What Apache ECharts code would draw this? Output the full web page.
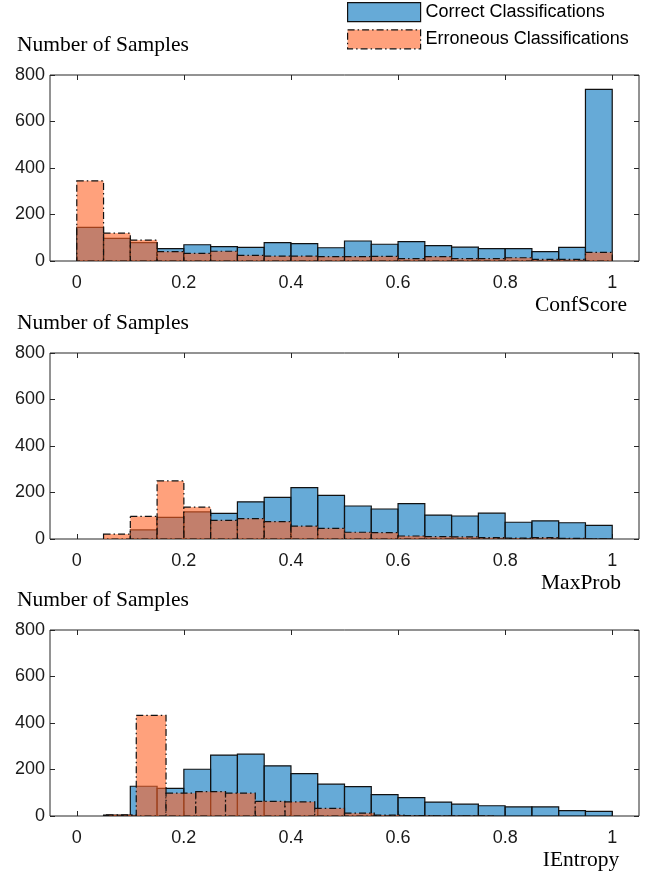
<!DOCTYPE html>
<html>
<head>
<meta charset="utf-8">
<script src="https://cdn.jsdelivr.net/npm/echarts@6/dist/echarts.min.js"></script>
<style>
html,body{margin:0;padding:0;background:#fff;}
#chart{width:662px;height:876px;}
</style>
</head>
<body>
<div id="chart"></div>
<script>
// ---------- DATA ----------
const seriesNames = ['Correct Classifications', 'Erroneous Classifications'];
const xTickValues = [0, 0.2, 0.4, 0.6, 0.8, 1];
const panelTitles = ['ConfScore', 'MaxProb', 'IEntropy'];
const yAxisTitle = 'Number of Samples';

// bin starts (width 0.05)
const binStarts20 = [0, 0.05, 0.1, 0.15, 0.2, 0.25, 0.3, 0.35, 0.4, 0.45,
                     0.5, 0.55, 0.6, 0.65, 0.7, 0.75, 0.8, 0.85, 0.9, 0.95];
const binWidth20 = 0.05;
// bin starts (width 1/18) used by IEntropy erroneous histogram
const binStarts18 = [0.0556, 0.1111, 0.1667, 0.2222, 0.2778, 0.3333, 0.3889, 0.4444,
                     0.5, 0.5556, 0.6111, 0.6667, 0.7222];
const binWidth18 = 0.0556;

// ConfScore
const confCorrect   = [145, 97, 79, 53, 70, 62, 59, 79, 75, 57, 86, 72, 83, 66, 60, 53, 53, 40, 59, 738];
const confErroneous = [345, 120, 90, 40, 33, 42, 24, 21, 21, 19, 19, 20, 10, 19, 10, 10, 14, 7, 7, 37];
// MaxProb
const maxCorrect    = [0, 0, 39, 93, 117, 110, 160, 179, 221, 188, 142, 129, 152, 103, 99, 111, 72, 78, 70, 59];
const maxErroneous  = [0, 21, 97, 250, 137, 80, 88, 75, 55, 46, 29, 27, 13, 10, 9, 6, 4, 6, 3, 1];
// IEntropy
const entCorrect    = [0, 4, 128, 119, 201, 262, 266, 216, 182, 137, 126, 92, 79, 60, 51, 44, 39, 39, 23, 20];
const entErroneous  = [5, 433, 98, 105, 98, 63, 61, 33, 12, 4, 2, 1, 1];

// ---------- BUILD ----------
function toBins(starts, width, values) {
  const out = [];
  for (let i = 0; i < values.length; i++) {
    if (values[i] > 0) out.push([starts[i], starts[i] + width, values[i]]);
  }
  return out;
}

const panels = [
  { correct: toBins(binStarts20, binWidth20, confCorrect), erroneous: toBins(binStarts20, binWidth20, confErroneous) },
  { correct: toBins(binStarts20, binWidth20, maxCorrect),  erroneous: toBins(binStarts20, binWidth20, maxErroneous) },
  { correct: toBins(binStarts20, binWidth20, entCorrect),  erroneous: toBins(binStarts18, binWidth18, entErroneous) }
];

const blueFill = 'rgba(0,114,189,0.6)';
const orangeFill = 'rgba(255,98,36,0.6)';
const dashDot = [7, 3, 1.5, 3];

function makeRender(fill, dash) {
  return function (params, api) {
    const x0 = api.value(0), x1 = api.value(1), v = api.value(2);
    const pTop = api.coord([x0, v]);
    const pBot = api.coord([x1, 0]);
    return {
      type: 'rect',
      shape: { x: pTop[0], y: pTop[1], width: pBot[0] - pTop[0], height: pBot[1] - pTop[1] },
      style: { fill: fill, stroke: '#111', lineWidth: 1.2, lineDash: dash }
    };
  };
}

const gridTops = [75, 353, 630];
const gridH = 186;
const fontSans = 'Liberation Sans, Arial, sans-serif';
const fontSerif = 'Liberation Serif, Times New Roman, serif';
const tickStyle = { color: '#262626', width: 1 };

const grids = [], xAxes = [], yAxes = [], series = [], graphics = [];
gridTops.forEach((top, i) => {
  grids.push({ left: 50, right: 23, top: top, height: gridH, show: true,
               borderColor: '#262626', borderWidth: 1, backgroundColor: 'transparent' });
  // bottom x axis
  xAxes.push({ type: 'value', gridIndex: i, min: -0.05, max: 1.05, position: 'bottom',
    splitLine: { show: false }, axisLine: { show: false, onZero: false },
    axisTick: { show: true, inside: true, length: 5, customValues: xTickValues, lineStyle: tickStyle },
    axisLabel: { show: true, customValues: xTickValues, margin: 13, fontSize: 18, color: '#1a1a1a', fontFamily: fontSans }
  });
  // top x axis (ticks only)
  xAxes.push({ type: 'value', gridIndex: i, min: -0.05, max: 1.05, position: 'top',
    splitLine: { show: false }, axisLine: { show: false, onZero: false },
    axisTick: { show: true, inside: true, length: 5, customValues: xTickValues, lineStyle: tickStyle },
    axisLabel: { show: false }
  });
  yAxes.push({ type: 'value', gridIndex: i, min: 0, max: 800, interval: 200, position: 'left',
    splitLine: { show: false }, axisLine: { show: false, onZero: false },
    axisTick: { show: true, inside: true, length: 5, lineStyle: tickStyle },
    axisLabel: { show: true, margin: 5, fontSize: 18, color: '#1a1a1a', fontFamily: fontSans }
  });
  yAxes.push({ type: 'value', gridIndex: i, min: 0, max: 800, interval: 200, position: 'right',
    splitLine: { show: false }, axisLine: { show: false, onZero: false },
    axisTick: { show: true, inside: true, length: 5, lineStyle: tickStyle },
    axisLabel: { show: false }
  });
  series.push({
    type: 'custom', name: seriesNames[0], xAxisIndex: i * 2, yAxisIndex: i * 2,
    renderItem: makeRender(blueFill, null), data: panels[i].correct, clip: true,
    itemStyle: { color: blueFill, borderColor: '#111' }, encode: { x: [0, 1], y: 2 }, z: 2
  });
  series.push({
    type: 'custom', name: seriesNames[1], xAxisIndex: i * 2, yAxisIndex: i * 2,
    renderItem: makeRender(orangeFill, dashDot), data: panels[i].erroneous, clip: true,
    itemStyle: { color: orangeFill, borderColor: '#111' }, encode: { x: [0, 1], y: 2 }, z: 3
  });
  graphics.push({ type: 'text', left: 17, top: top - 41,
    style: { text: yAxisTitle, font: '21.5px ' + fontSerif, fill: '#000' } });
  graphics.push({ type: 'text', x: 581, y: top + gridH + 44,
    style: { text: panelTitles[i], font: '21.5px ' + fontSerif, fill: '#000', align: 'center', verticalAlign: 'middle' } });
});

const chart = echarts.init(document.getElementById('chart'), null, { renderer: 'canvas' });
chart.setOption({
  animation: false,
  backgroundColor: '#fff',
  grid: grids,
  xAxis: xAxes,
  yAxis: yAxes,
  series: series,
  graphic: graphics,
  legend: {
    orient: 'vertical', left: 347, top: 2, padding: 0, itemWidth: 73, itemHeight: 19, itemGap: 7,
    selectedMode: false,
    textStyle: { fontSize: 18, color: '#000', fontFamily: fontSans },
    data: [
      { name: seriesNames[0], icon: 'rect', itemStyle: { color: blueFill, borderColor: '#111', borderWidth: 1.2 } },
      { name: seriesNames[1], icon: 'rect', itemStyle: { color: orangeFill, borderColor: '#111', borderWidth: 1.2, borderType: dashDot } }
    ]
  }
});
</script>
</body>
</html>
